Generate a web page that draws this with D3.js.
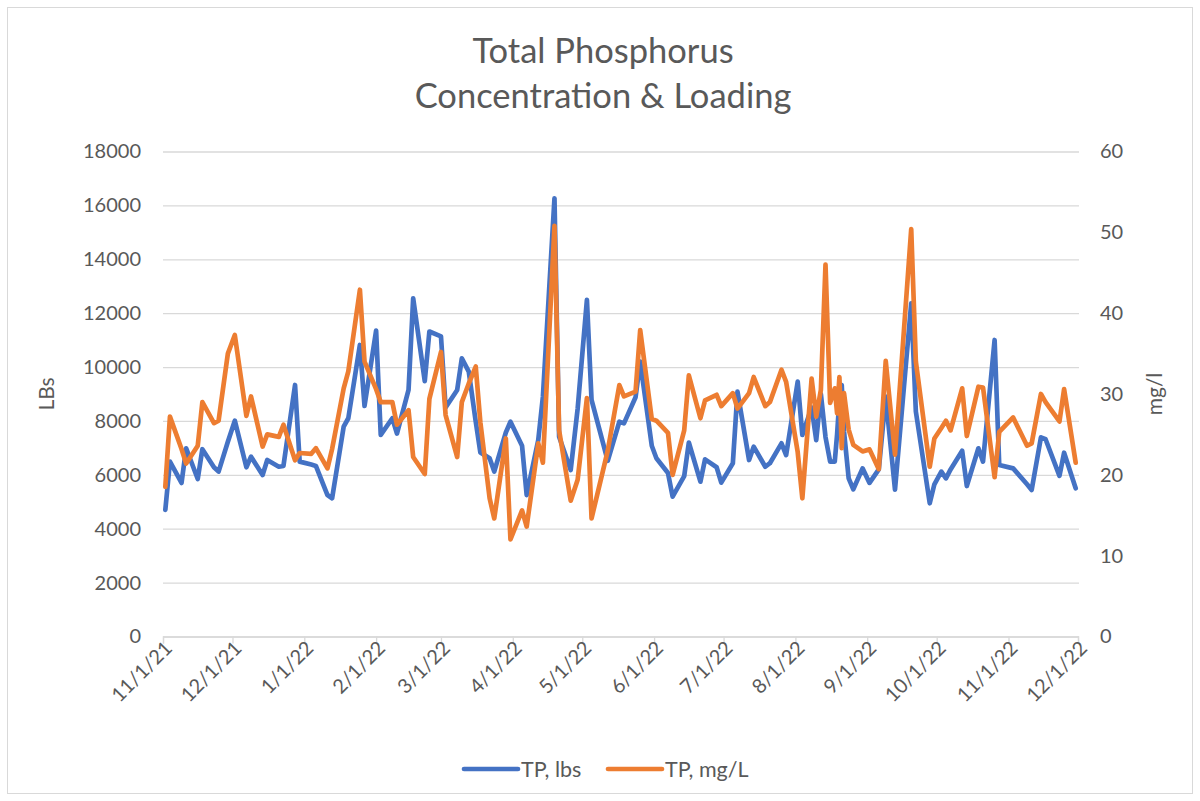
<!DOCTYPE html>
<html>
<head>
<meta charset="utf-8">
<script src="https://cdn.jsdelivr.net/npm/d3@7/dist/d3.min.js"></script>
<style>
  html, body { margin: 0; padding: 0; background: #fff; }
  svg { display: block; }
  text { font-family: Lato, "Noto Sans", sans-serif; fill: #595959; }
</style>
</head>
<body>
<svg id="chart" width="1200" height="801"></svg>
<script>
// ---- Data ----
const dates = [
  "2021-11-02","2021-11-04","2021-11-09","2021-11-11","2021-11-16","2021-11-18","2021-11-23","2021-11-25","2021-11-29",
  "2021-12-02","2021-12-07","2021-12-09","2021-12-14","2021-12-16","2021-12-21","2021-12-23","2021-12-28","2021-12-30",
  "2022-01-04","2022-01-06","2022-01-11","2022-01-13","2022-01-18","2022-01-20","2022-01-25","2022-01-27",
  "2022-02-01","2022-02-03","2022-02-08","2022-02-10","2022-02-15","2022-02-17","2022-02-22","2022-02-24",
  "2022-03-01","2022-03-03","2022-03-08","2022-03-10","2022-03-13","2022-03-16","2022-03-18","2022-03-22","2022-03-24","2022-03-29","2022-03-31",
  "2022-04-05","2022-04-07","2022-04-12","2022-04-14","2022-04-19","2022-04-21","2022-04-26","2022-04-29",
  "2022-05-03","2022-05-05","2022-05-12","2022-05-17","2022-05-19","2022-05-24","2022-05-26","2022-05-31",
  "2022-06-02","2022-06-07","2022-06-09","2022-06-14","2022-06-16","2022-06-21","2022-06-23","2022-06-28","2022-06-30",
  "2022-07-05","2022-07-07","2022-07-12","2022-07-14","2022-07-19","2022-07-21","2022-07-26","2022-07-28",
  "2022-08-02","2022-08-04","2022-08-08","2022-08-10","2022-08-12","2022-08-14","2022-08-16","2022-08-18","2022-08-19",
  "2022-08-20","2022-08-21","2022-08-22","2022-08-24","2022-08-26","2022-08-30",
  "2022-09-02","2022-09-06","2022-09-09","2022-09-13","2022-09-20","2022-09-22","2022-09-28","2022-09-30",
  "2022-10-03","2022-10-05","2022-10-07","2022-10-12","2022-10-14","2022-10-19","2022-10-21","2022-10-26","2022-10-28",
  "2022-11-03","2022-11-09","2022-11-11","2022-11-15","2022-11-17","2022-11-23","2022-11-25","2022-11-30"
];
const tpLbs = [
  4700,6490,5700,6985,5845,6950,6280,6120,7230,
  8010,6280,6675,5995,6550,6300,6330,9335,6490,
  6380,6330,5250,5130,7790,8100,10820,8555,
  11350,7480,8100,7530,9150,12550,9480,11320,
  11140,8500,9150,10325,9830,7980,6830,6615,6120,7570,7970,
  7080,5250,7290,8900,16260,7415,6180,8450,
  12490,8780,6520,7970,7910,8880,10200,7080,
  6615,6070,5190,5950,7200,5745,6575,6280,5710,
  6430,9090,6550,7045,6300,6430,7170,6735,
  9460,7480,8500,7290,9000,7400,6490,6490,7500,
  8800,9335,7600,5870,5465,6240,
  5700,6200,8900,5450,12365,8350,4945,5650,
  6120,5870,6200,6895,5585,6985,6490,11005,6365,
  6240,5650,5440,7390,7320,5960,6820,5500
];
const tpMgL = [
  18.5,27.2,23.2,21.4,23.6,29.0,26.4,26.7,35.0,
  37.3,27.3,29.7,23.5,25.0,24.7,26.2,21.8,22.7,
  22.6,23.3,20.8,23.2,30.7,32.8,42.9,34.0,
  30.6,29.0,29.0,26.2,28.0,22.2,20.1,29.4,
  35.2,27.4,22.2,29.0,31.3,33.4,26.5,17.1,14.6,24.5,12.0,
  15.6,13.6,23.9,21.5,50.8,25.5,16.8,19.4,
  29.5,14.6,23.0,31.1,29.7,30.3,37.9,26.9,
  26.7,25.2,20.0,25.5,32.3,27.0,29.2,29.9,28.5,
  30.1,28.2,30.1,32.1,28.5,29.0,33.0,31.5,
  22.8,17.1,31.9,27.2,30.5,46.0,28.9,30.7,27.6,
  32.1,23.3,30.1,25.6,23.7,22.9,
  23.15,20.7,34.1,22.5,50.4,34.0,21.0,24.5,
  25.8,26.7,25.5,30.7,24.8,30.9,30.8,19.7,25.3,
  27.1,23.6,23.9,30.0,29.0,26.6,30.6,21.5
];
const leftTicks = [0,2000,4000,6000,8000,10000,12000,14000,16000,18000];
const rightTicks = [0,10,20,30,40,50,60];
const titleLines = ["Total Phosphorus", "Concentration & Loading"];
const seriesNames = ["TP, lbs", "TP, mg/L"];
const colors = ["#4472C4", "#ED7D31"];

// ---- Layout ----
const plot = { left: 163, right: 1078, top: 151.5, bottom: 636.5 };
const parse = d3.timeParse("%Y-%m-%d");
const svg = d3.select("#chart");

svg.append("rect").attr("x", 7.5).attr("y", 7.5).attr("width", 1185).attr("height", 786)
  .attr("fill", "#fff").attr("stroke", "#D9D9D9").attr("stroke-width", 1);

const x = d3.scaleTime()
  .domain([parse("2021-11-01"), parse("2022-12-01")])
  .range([plot.left, plot.right]);
const yL = d3.scaleLinear().domain([0, 18000]).range([plot.bottom, plot.top]);
const yR = d3.scaleLinear().domain([0, 60]).range([plot.bottom, plot.top]);

// Title
svg.append("g").selectAll("text").data(titleLines).join("text")
  .attr("x", 603).attr("y", (d, i) => 63 + i * 45)
  .attr("text-anchor", "middle")
  .style("font-size", "34.5px")
  .text(d => d);

// Gridlines + left axis
const gL = svg.append("g").attr("transform", `translate(${plot.left},0)`)
  .call(d3.axisLeft(yL).tickValues(leftTicks).tickSize(-(plot.right - plot.left + 1)).tickPadding(22).tickFormat(d3.format("d")));
gL.select(".domain").remove();
gL.selectAll(".tick line").attr("stroke", "#D9D9D9").attr("stroke-width", 1.3);
gL.selectAll(".tick text").style("font-size", "20px").attr("fill", "#595959");

// Right axis
const gR = svg.append("g").attr("transform", `translate(${plot.right},0)`)
  .call(d3.axisRight(yR).tickValues(rightTicks).tickSize(0).tickPadding(22));
gR.select(".domain").remove();
gR.selectAll(".tick text").style("font-size", "20px").attr("fill", "#595959");

// X axis
const gX = svg.append("g").attr("transform", `translate(0,${plot.bottom})`)
  .call(d3.axisBottom(x).ticks(d3.timeMonth.every(1)).tickSize(7).tickFormat(d3.timeFormat("%-m/%-d/%y")));
gX.select(".domain").attr("stroke", "#D9D9D9").attr("stroke-width", 1.3);
gX.selectAll(".tick line").attr("stroke", "#D9D9D9").attr("stroke-width", 1.3);
gX.selectAll(".tick text")
  .style("font-size", "20px").attr("fill", "#595959")
  .attr("text-anchor", "end")
  .attr("dy", "0.35em")
  .attr("transform", "translate(5,8) rotate(-45)")
  .attr("x", 0).attr("y", 0);

// Axis titles
svg.append("text").attr("transform", "translate(54,394) rotate(-90)")
  .attr("text-anchor", "middle").style("font-size", "21px").text("LBs");
svg.append("text").attr("transform", "translate(1162,394) rotate(-90)")
  .attr("text-anchor", "middle").style("font-size", "21px").text("mg/l");

// Lines
const rows = dates.map((d, i) => ({ date: parse(d), lbs: tpLbs[i], mgl: tpMgL[i] }));
const lineL = d3.line().x(d => x(d.date)).y(d => yL(d.lbs));
const lineR = d3.line().x(d => x(d.date)).y(d => yR(d.mgl));
svg.append("path").datum(rows).attr("d", lineL)
  .attr("fill", "none").attr("stroke", colors[0]).attr("stroke-width", 4.7)
  .attr("stroke-linejoin", "round").attr("stroke-linecap", "round");
svg.append("path").datum(rows).attr("d", lineR)
  .attr("fill", "none").attr("stroke", colors[1]).attr("stroke-width", 4.7)
  .attr("stroke-linejoin", "round").attr("stroke-linecap", "round");

// Legend
const legendItems = [{ x: 464, name: seriesNames[0], c: colors[0] }, { x: 608, name: seriesNames[1], c: colors[1] }];
const lg = svg.append("g").selectAll("g").data(legendItems).join("g")
  .attr("transform", d => `translate(${d.x},769)`);
lg.append("line").attr("x1", 0).attr("x2", 54).attr("y1", 0).attr("y2", 0)
  .attr("stroke", d => d.c).attr("stroke-width", 4.7).attr("stroke-linecap", "round");
lg.append("text").attr("x", 57).attr("y", 0).attr("dy", "0.35em")
  .style("font-size", "21.5px").text(d => d.name);
</script>
</body>
</html>
